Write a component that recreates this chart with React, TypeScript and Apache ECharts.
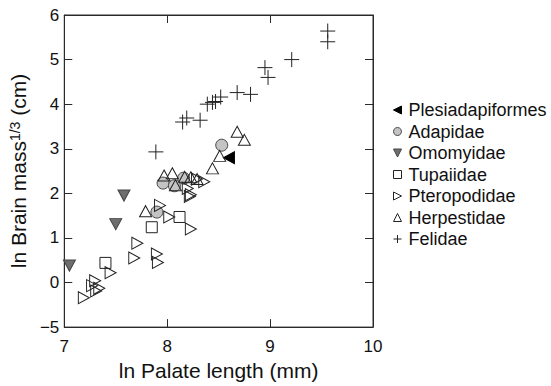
import React, { useEffect, useRef } from "react";
import * as echarts from "echarts";

const FONT = "'Liberation Sans', Arial, Helvetica, sans-serif";

const families = ["Plesiadapiformes", "Adapidae", "Omomyidae", "Tupaiidae", "Pteropodidae", "Herpestidae", "Felidae"];

const plesX = [8.6];
const plesY = [2.8];
const adapX = [7.9, 7.96, 8.07, 8.16, 8.53];
const adapY = [1.58, 2.23, 2.17, 2.34, 3.08];
const omomX = [7.05, 7.5, 7.58];
const omomY = [0.38, 1.31, 1.95];
const tupaX = [7.4, 7.85, 8.12];
const tupaY = [0.44, 1.24, 1.47];
const pterX = [7.19, 7.27, 7.3, 7.31, 7.34, 7.45, 7.68, 7.71, 7.9, 7.91, 7.93, 8.02, 8.2, 8.22, 8.23, 8.23, 8.29, 8.36];
const pterY = [-0.34, -0.07, 0.04, -0.19, -0.13, 0.22, 0.55, 0.88, 0.64, 0.45, 1.73, 1.47, 2.11, 1.93, 1.97, 1.2, 2.32, 2.26];
const herpX = [7.79, 7.97, 8.05, 8.08, 8.17, 8.23, 8.29, 8.44, 8.51, 8.68, 8.75];
const herpY = [1.6, 2.4, 2.45, 2.18, 2.37, 2.36, 2.32, 2.56, 2.84, 3.38, 3.2];
const feliX = [7.89, 8.15, 8.19, 8.32, 8.39, 8.44, 8.47, 8.52, 8.68, 8.81, 8.95, 8.98, 9.21, 9.56, 9.56];
const feliY = [2.93, 3.6, 3.69, 3.64, 4.0, 4.04, 4.06, 4.16, 4.26, 4.22, 4.82, 4.6, 5.0, 5.64, 5.4];

const xTickLabels = ["7", "8", "9", "10"];
const yTickValues = [-1, 0, 1, 2, 3, 4, 5, 6];
const yTickLabels = ["\u22125", "0", "1", "2", "3", "4", "5", "6"];

const zip = (xs: number[], ys: number[]) => xs.map((x, i) => [x, ys[i]]);

const SYM = {
  left: "path://M10,0L0,5L10,10Z",
  right: "path://M0,0L10,5L0,10Z",
  down: "path://M0,0L10,0L5,10Z",
  up: "path://M5,0L10,10L0,10Z",
  plus: "path://M5,0L5,10M0,5L10,5",
};

export default function App() {
  const ref = useRef<HTMLDivElement>(null);
  useEffect(() => {
    if (!ref.current) return;
    const chart = echarts.init(ref.current, null, { renderer: "svg" });
    const axisColor = "#2a2a2a";
    const mkSeries = (
      name: string,
      xs: number[],
      ys: number[],
      symbol: string,
      size: number | number[],
      fill: string,
      border: string
    ) => ({
      name,
      type: "scatter",
      data: zip(xs, ys),
      symbol,
      symbolSize: size,
      itemStyle: { color: fill, borderColor: border, borderWidth: 1, opacity: 1 },
      emphasis: { disabled: true },
    });
    const tick = { show: true, inside: true, length: 8, lineStyle: { color: axisColor } };
    const line = { show: true, onZero: false, lineStyle: { color: axisColor } };
    const option: any = {
      animation: false,
      backgroundColor: "#fff",
      textStyle: { fontFamily: FONT },
      grid: { left: 57, right: 178, top: 15, bottom: 50, show: true, borderColor: axisColor, borderWidth: 1 },
      legend: {
        orient: "vertical",
        left: 388,
        top: 96,
        itemWidth: 8,
        itemHeight: 8,
        itemGap: 3.5,
        data: families,
        textStyle: { fontFamily: FONT, fontSize: 18, color: "#111", padding: [0, 0, 0, 2] },
        itemStyle: { borderWidth: 1 },
      },
      xAxis: [
        {
          type: "value",
          min: 7,
          max: 10,
          interval: 1,
          position: "bottom",
          name: "ln Palate length (mm)",
          nameLocation: "middle",
          nameGap: 28,
          nameTextStyle: { fontSize: 21, color: "#111", fontFamily: FONT },
          axisLine: line,
          axisTick: tick,
          axisLabel: {
            fontSize: 17,
            color: "#111",
            margin: 11,
            formatter: (v: number) => xTickLabels[Math.round(v) - 7] ?? "",
          },
          splitLine: { show: false },
        },
        {
          type: "value",
          min: 7,
          max: 10,
          interval: 1,
          position: "top",
          axisLine: line,
          axisTick: tick,
          axisLabel: { show: false },
          splitLine: { show: false },
        },
      ],
      yAxis: [
        {
          type: "value",
          min: -1,
          max: 6,
          interval: 1,
          position: "left",
          name: "{a|ln Brain mass}{s|1/3}{a| (cm)}",
          nameLocation: "middle",
          nameGap: 28,
          nameTextStyle: {
            color: "#111",
            fontFamily: FONT,
            fontSize: 21,
            rich: {
              a: { fontSize: 21, fontFamily: FONT, color: "#111" },
              s: { fontSize: 14, fontFamily: FONT, color: "#111", verticalAlign: "top" },
            },
          },
          axisLine: line,
          axisTick: tick,
          axisLabel: {
            fontSize: 17,
            color: "#111",
            margin: 5,
            formatter: (v: number) => {
              const i = yTickValues.indexOf(Math.round(v));
              return i >= 0 ? yTickLabels[i] : "";
            },
          },
          splitLine: { show: false },
        },
        {
          type: "value",
          min: -1,
          max: 6,
          interval: 1,
          position: "right",
          axisLine: line,
          axisTick: tick,
          axisLabel: { show: false },
          splitLine: { show: false },
        },
      ],
      series: [
        mkSeries("Plesiadapiformes", plesX, plesY, SYM.left, [11, 12], "#000", "#000"),
        mkSeries("Adapidae", adapX, adapY, "circle", 12, "#c4c4c4", "#444"),
        mkSeries("Omomyidae", omomX, omomY, SYM.down, [12, 11], "#6e6e6e", "#444"),
        mkSeries("Tupaiidae", tupaX, tupaY, "rect", 11, "transparent", "#222"),
        mkSeries("Pteropodidae", pterX, pterY, SYM.right, [11, 12], "transparent", "#222"),
        mkSeries("Herpestidae", herpX, herpY, SYM.up, [12, 11], "transparent", "#222"),
        mkSeries("Felidae", feliX, feliY, SYM.plus, 15, "transparent", "#222"),
      ],
    };
    chart.setOption(option);
    return () => chart.dispose();
  }, []);
  return (
    <div
      ref={ref}
      style={{ position: "fixed", left: 0, top: 0, width: 551, height: 386, background: "#fff" }}
    />
  );
}
